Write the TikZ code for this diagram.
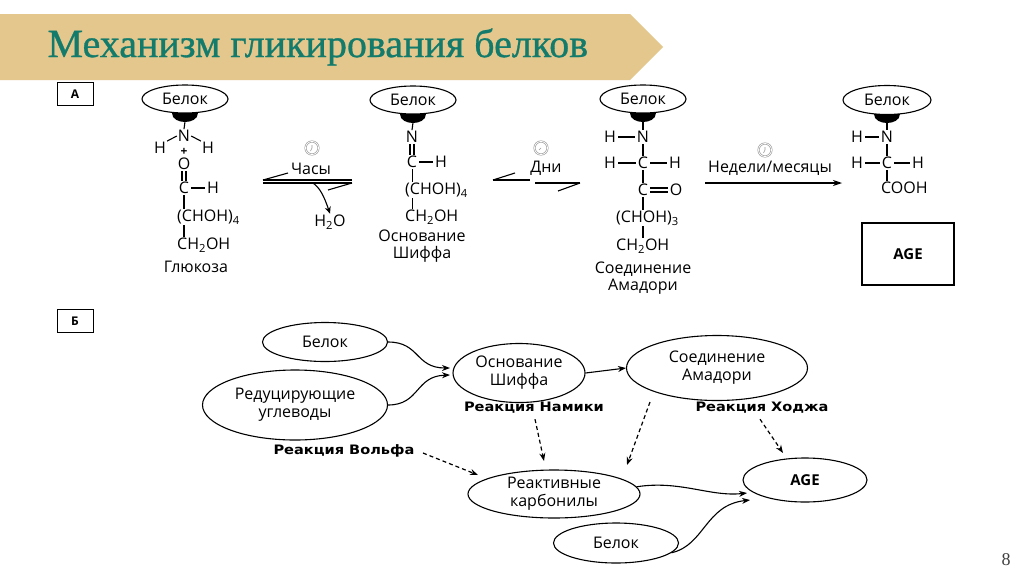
\documentclass[tikz,border=0pt]{standalone}
\usepackage{fontspec}
\setmainfont{Open Sans}
\newfontfamily\titlefont{Liberation Serif}[FakeBold=0.8]
\newfontfamily\pagefont{Liberation Serif}
\newfontfamily\boldlab{DejaVu Sans}[FakeStretch=1.12]
\usetikzlibrary{shapes.geometric,arrows.meta,calc}
\definecolor{bannerc}{HTML}{E4C78C}
\definecolor{titlec}{HTML}{137B6B}
\begin{document}
\begin{tikzpicture}[x=1pt,y=-1pt,
  ell/.style={draw,ellipse,line width=1.1pt,inner sep=0pt,align=center,font=\fontsize{16}{18}\selectfont},
  atom/.style={inner sep=1pt,font=\fontsize{16}{18}\selectfont},
  grp/.style={inner sep=1pt,anchor=west,font=\fontsize{16}{18}\selectfont},
  bond/.style={line width=1.1pt},
  lab/.style={font=\fontsize{16}{17}\selectfont,align=center},
  blab/.style={font=\boldlab\bfseries\fontsize{13}{15}\selectfont},
  arr/.style={line width=1.1pt,-{Stealth[length=8pt,width=6pt]}},
  darr/.style={line width=1.2pt,dash pattern=on 4pt off 3pt,-{Stealth[length=8pt,width=6pt]}},
  clk/.style={circle,draw=gray!80,double=white,double distance=0.8pt,line width=0.6pt,minimum size=13pt,inner sep=0pt},
  tag/.style={draw,line width=0.8pt,minimum width=36pt,minimum height=23pt,font=\bfseries\fontsize{12}{13}\selectfont}
]
\useasboundingbox (0,0) rectangle (1024,576);
\fill[white] (0,0) rectangle (1024,576);
% banner
\fill[bannerc] (0,14) -- (630,14) -- (663,47) -- (630,80) -- (0,80) -- cycle;
\node[anchor=west,font=\titlefont\fontsize{40}{44}\selectfont,text=titlec] (title) at (44,47) {Механизм гликирования белков};

% ===== Panel A =====
\node[tag] (tagA) at (75,94) {А};

% Glucose
\node[ell,minimum width=86pt,minimum height=28pt] (e1) at (185,99) {Белок};
\fill ($(e1.south)+(-13,-1)$) .. controls +(0,12) and +(0,12) .. ($(e1.south)+(13,-1)$) -- cycle;
\node[atom] (n1) at (184,136) {N};
\draw[bond] ($(e1.south)+(0,8)$) -- (n1.north);
\node[atom] (h1a) at (160,148) {H};
\node[atom] (h1b) at (208,148) {H};
\draw[bond] (h1a.north east) -- (n1.west);
\draw[bond] (h1b.north west) -- (n1.east);
\node[inner sep=0pt,font=\bfseries\fontsize{12}{12}\selectfont] (plus) at (184,152) {+};
\node[atom] (o1) at (184,164) {O};
\node[atom] (c1) at (184,188) {C};
\draw[bond] ($(o1.south)+(-2,0)$) -- ($(c1.north)+(-2,0)$);
\draw[bond] ($(o1.south)+(2,0)$) -- ($(c1.north)+(2,0)$);
\node[atom] (h1c) at (213,188) {H};
\draw[bond,shorten <=1pt,shorten >=1pt] (c1.east) -- (h1c.west);
\node[grp] (g1) at (176,217) {(CHOH)\textsubscript{4}};
\node[grp] (g1b) at (176,245) {CH\textsubscript{2}OH};
\draw[bond] (c1.south) -- (c1.south |- g1.north);
\draw[bond] (c1.south |- g1.south) -- (c1.south |- g1b.north);
\node[lab] (gl) at (196,267) {Глюкоза};

% arrow 1 (hours)
\node[clk] (clk1) at (312,148) {};
\draw[gray!80,line width=0.6pt] (clk1.center) -- ++(-1.5,3) (clk1.center) -- ++(0,-3);
\node[lab] (hrs) at (311,169) {Часы};
\coordinate (a1l) at (263,180); \coordinate (a1r) at (352,180);
\coordinate (a1lb) at (263,183); \coordinate (a1rb) at (352,183);
\draw[bond] (a1l) -- (a1r);
\draw[bond] (a1lb) -- (a1rb);
\draw[bond] (a1l) -- ++(25,-7);
\draw[bond] (a1rb) -- ++(-24,7);
\node[atom] (h2o) at (330,222) {H\textsubscript{2}O};
\draw[line width=1.1pt,-{Stealth[length=7pt,width=6pt]}] (313,183) .. controls (320,188) and (324,196) .. (h2o.north);

% Schiff base
\node[ell,minimum width=86pt,minimum height=28pt] (e2) at (413,100) {Белок};
\fill ($(e2.south)+(-13,-1)$) .. controls +(0,12) and +(0,12) .. ($(e2.south)+(13,-1)$) -- cycle;
\node[atom] (n2) at (412,137) {N};
\draw[bond] ($(e2.south)+(0,8)$) -- (n2.north);
\node[atom] (c2) at (412,162) {C};
\draw[bond] ($(n2.south)+(-2,0)$) -- ($(c2.north)+(-2,0)$);
\draw[bond] ($(n2.south)+(2,0)$) -- ($(c2.north)+(2,0)$);
\node[atom] (h2a) at (441,162) {H};
\draw[bond,shorten <=1pt,shorten >=1pt] (c2.east) -- (h2a.west);
\node[grp] (g2) at (404,190) {(CHOH)\textsubscript{4}};
\node[grp] (g2b) at (404,217) {CH\textsubscript{2}OH};
\draw[line width=0.8pt] (c2.south) -- (c2.south |- g2.north);
\draw[line width=0.8pt] (c2.south |- g2.south) -- (c2.south |- g2b.north);
\node[lab] (schl) at (422,246) {Основание\\Шиффа};

% arrow 2 (days)
\node[clk] (clk2) at (541,148) {};
\draw[gray!80,line width=0.6pt] (clk2.center) -- ++(-2,2);
\node[lab] (days) at (546,168) {Дни};
\coordinate (a2l) at (493,180); \coordinate (a2m) at (530,180);
\coordinate (a2n) at (535,183); \coordinate (a2r) at (580,183);
\draw[bond] (a2l) -- (a2m);
\draw[bond] (a2l) -- ++(22,-7);
\draw[bond] (a2n) -- (a2r);
\draw[bond] (a2r) -- ++(-22,8);

% Amadori
\node[ell,minimum width=86pt,minimum height=28pt] (e3) at (643,99) {Белок};
\fill ($(e3.south)+(-13,-1)$) .. controls +(0,12) and +(0,12) .. ($(e3.south)+(13,-1)$) -- cycle;
\node[atom] (n3) at (643,137) {N};
\draw[bond] ($(e3.south)+(0,8)$) -- (n3.north);
\node[atom] (h3a) at (610,137) {H};
\draw[bond,shorten <=1pt,shorten >=1pt] (h3a.east) -- (n3.west);
\node[atom] (c3) at (643,163) {C};
\node[atom] (h3b) at (610,163) {H};
\node[atom] (h3c) at (675,163) {H};
\draw[bond] (n3.south) -- (c3.north);
\draw[bond,shorten <=1pt,shorten >=1pt] (h3b.east) -- (c3.west);
\draw[bond,shorten <=1pt,shorten >=1pt] (c3.east) -- (h3c.west);
\node[atom] (c4) at (643,190) {C};
\node[atom] (o4) at (676,190) {O};
\draw[bond] (c3.south) -- (c4.north);
\draw[bond,shorten <=1pt,shorten >=1pt] ($(c4.east)+(0,-2)$) -- ($(o4.west)+(0,-2)$);
\draw[bond,shorten <=1pt,shorten >=1pt] ($(c4.east)+(0,2)$) -- ($(o4.west)+(0,2)$);
\node[grp] (g3) at (615,218) {(CHOH)\textsubscript{3}};
\node[grp] (g3b) at (615,246) {CH\textsubscript{2}OH};
\draw[bond] (c4.south) -- (c4.south |- g3.north);
\draw[bond] (c4.south |- g3.south) -- (c4.south |- g3b.north);
\node[lab] (amal) at (643,278) {Соединение\\Амадори};

% arrow 3 (weeks/months)
\node[clk] (clk3) at (765,150) {};
\draw[gray!80,line width=0.6pt] (clk3.center) -- ++(-1.5,3) (clk3.center) -- ++(0,-3);
\node[lab] (wks) at (770,168) {Недели/месяцы};
\coordinate (a3l) at (705,183); \coordinate (a3r) at (842,183);
\draw[line width=1.1pt,-{Stealth[length=9pt,width=6pt]}] (a3l) -- (a3r);

% AGE structure
\node[ell,minimum width=88pt,minimum height=29pt] (e4) at (887,100) {Белок};
\fill ($(e4.south)+(-13,-1)$) .. controls +(0,12) and +(0,12) .. ($(e4.south)+(13,-1)$) -- cycle;
\node[atom] (n4) at (887,137) {N};
\draw[bond] ($(e4.south)+(0,8)$) -- (n4.north);
\node[atom] (h4a) at (857,137) {H};
\draw[bond,shorten <=1pt,shorten >=1pt] (h4a.east) -- (n4.west);
\node[atom] (c5) at (887,163) {C};
\node[atom] (h4b) at (857,163) {H};
\node[atom] (h4c) at (918,163) {H};
\draw[bond] (n4.south) -- (c5.north);
\draw[bond,shorten <=1pt,shorten >=1pt] (h4b.east) -- (c5.west);
\draw[bond,shorten <=1pt,shorten >=1pt] (c5.east) -- (h4c.west);
\node[grp] (cooh) at (880,188) {COOH};
\draw[bond] (c5.south) -- (c5.south |- cooh.north);
\node[draw,line width=1.1pt,minimum width=92pt,minimum height=62pt,font=\bfseries\fontsize{15}{16}\selectfont] (agebox) at (908,254) {AGE};

% ===== Panel B =====
\node[tag] (tagB) at (75,321) {Б};
\node[ell,minimum width=125pt,minimum height=39pt] (bB1) at (325,342) {Белок};
\node[ell,minimum width=185pt,minimum height=70pt] (bR) at (295,405) {Редуцирующие\\углеводы};
\node[ell,minimum width=132pt,minimum height=59pt] (bS) at (519,373) {Основание\\Шиффа};
\node[ell,minimum width=181pt,minimum height=65pt] (bA) at (717,368) {Соединение\\Амадори};
\node[ell,minimum width=172pt,minimum height=48pt] (bK) at (554,494) {Реактивные\\карбонилы};
\node[ell,minimum width=124pt,minimum height=44pt,font=\bfseries\fontsize{15}{16}\selectfont] (bAGE) at (805,480) {AGE};
\node[ell,minimum width=125pt,minimum height=40pt] (bB2) at (616,543) {Белок};

\node[blab] (rN) at (534,408) {Реакция Намики};
\node[blab] (rH) at (762,408) {Реакция Ходжа};
\node[blab] (rV) at (344,451) {Реакция Вольфа};

\draw[arr] (bB1.east) .. controls (420,342) and (415,368) .. ($(bS.center)+(-69,-5)$);
\draw[arr] (bR.east) .. controls (420,405) and (415,376) .. ($(bS.center)+(-69,2)$);
\draw[arr] (bS.east) -- (bA.west);

\draw[darr] ($(rN.south)+(1,2)$) -- ($(bK.center)+(-10,-33)$);
\draw[darr] ($(bA.center)+(-67,34)$) -- ($(bK.center)+(73,-29)$);
\draw[darr] ($(rH.south)+(-2,2)$) -- ($(bAGE.center)+(-22,-27)$);
\draw[darr] ($(rV.east)+(5,2)$) -- ($(bK.center)+(-76,-19)$);

\draw[arr] (bK.5) .. controls (680,480) and (710,497) .. ($(bAGE.center)+(-58,13)$);
\draw[arr] (bB2.-10) .. controls (705,545) and (705,505) .. ($(bAGE.center)+(-55,20)$);

\node[font=\pagefont\fontsize{18}{20}\selectfont,text=black!75] (pg) at (1006,560) {8};
\end{tikzpicture}
\end{document}
